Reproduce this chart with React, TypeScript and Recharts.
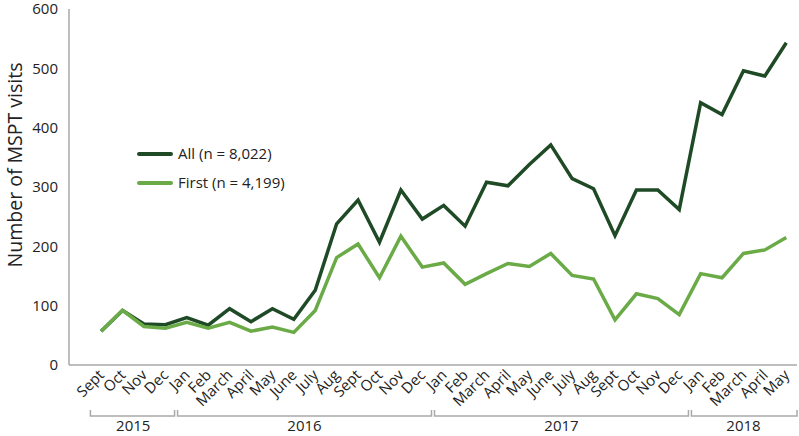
import React from 'react';
import { LineChart, Line, XAxis, YAxis } from 'recharts';

// Sept 2015 .. May 2018, one entry per month
const months = [
  'Sept', 'Oct', 'Nov', 'Dec',
  'Jan', 'Feb', 'March', 'April', 'May', 'June', 'July', 'Aug', 'Sept', 'Oct', 'Nov', 'Dec',
  'Jan', 'Feb', 'March', 'April', 'May', 'June', 'July', 'Aug', 'Sept', 'Oct', 'Nov', 'Dec',
  'Jan', 'Feb', 'March', 'April', 'May',
];
const allVisits = [
  57, 92, 69, 68,
  80, 67, 95, 73, 95, 77, 126, 238, 278, 207, 295, 246,
  269, 234, 308, 302, 338, 371, 314, 297, 218, 295, 295, 262,
  442, 422, 496, 487, 543,
];
const firstVisits = [
  57, 92, 65, 62,
  72, 62, 72, 57, 64, 55, 92, 181, 204, 147, 217, 165,
  172, 136, 154, 171, 166, 188, 151, 145, 76, 120, 112, 85,
  154, 147, 188, 194, 215,
];
const years = ['2015', '2016', '2017', '2018'];
// month index range covered by each year
const yearStart = [0, 4, 16, 28];
const yearEnd = [3, 15, 27, 32];
const yTicks = [0, 100, 200, 300, 400, 500, 600];
const seriesNames = ['All (n = 8,022)', 'First (n = 4,199)'];

const data = months.map((m, i) => ({ idx: i, month: m, all: allVisits[i], first: firstVisits[i] }));

const DARK = '#1f4a26';
const LIGHT = '#6aab47';
const AXIS = '#a9a9a9';
const TEXT = '#222';
const FONT = '"Open Sans", sans-serif';

const W = 799;
const H = 436;
const LEFT = 69;
const RIGHT = 2;
const X_MIN = -1.5;
const X_MAX = months.length - 0.5;
const PX_PER_UNIT = (W - LEFT - RIGHT) / (X_MAX - X_MIN);

const MonthTick = (props: any) => {
  const { x, y, payload } = props;
  const ax = x + 4;
  const ay = y + 11;
  return (
    <text
      x={ax}
      y={ay}
      textAnchor="end"
      fontSize={15}
      fontFamily={FONT}
      fill={TEXT}
      transform={`rotate(-45, ${ax}, ${ay})`}
    >
      {months[payload.value]}
    </text>
  );
};

const yearSpan = (i: number) => [
  Math.max(yearStart[i] - 0.5, X_MIN),
  Math.min(yearEnd[i] + 0.5, X_MAX),
];

// draws the bracket under each year plus its label
const YearTick = (props: any) => {
  const { x, y, index } = props;
  const [s, e] = yearSpan(index);
  const center = (s + e) / 2;
  const x0 = x + (s - center) * PX_PER_UNIT + (index === 0 ? 0 : 1.5);
  const x1 = x + (e - center) * PX_PER_UNIT - (index === years.length - 1 ? 0 : 1.5);
  return (
    <g>
      <path d={`M${x0},${y - 6}V${y}H${x1}V${y - 6}`} stroke={AXIS} strokeWidth={1.5} fill="none" />
      <text x={x} y={y + 15} textAnchor="middle" fontSize={15} fontFamily={FONT} fill={TEXT}>
        {years[index]}
      </text>
    </g>
  );
};

const YLabel = (props: any) => {
  const { viewBox } = props;
  const cx = 14;
  const cy = viewBox.y + viewBox.height / 2 - 22;
  return (
    <text
      x={cx}
      y={cy}
      textAnchor="middle"
      dominantBaseline="central"
      fontSize={19.5}
      fontFamily={FONT}
      fill={TEXT}
      transform={`rotate(-90, ${cx}, ${cy})`}
    >
      Number of MSPT visits
    </text>
  );
};

const yearCenters = years.map((_, i) => {
  const [s, e] = yearSpan(i);
  return (s + e) / 2;
});

export default function App() {
  return (
    <div style={{ position: 'absolute', left: 0, top: 0, width: W, height: H, background: '#fff' }}>
      <LineChart width={W} height={H} data={data} margin={{ top: 9, right: RIGHT, left: 0, bottom: 0 }}>
        <XAxis
          dataKey="idx"
          type="number"
          domain={[X_MIN, X_MAX]}
          ticks={months.map((_, i) => i)}
          interval={0}
          height={51}
          stroke={AXIS}
          strokeWidth={1.5}
          tickLine={false}
          tickSize={0}
          tickMargin={0}
          tick={<MonthTick />}
        />
        <XAxis
          xAxisId="yr"
          dataKey="idx"
          type="number"
          domain={[X_MIN, X_MAX]}
          ticks={yearCenters}
          interval={0}
          height={20}
          axisLine={false}
          tickLine={false}
          tickSize={0}
          tickMargin={0}
          tick={<YearTick />}
        />
        <YAxis
          domain={[0, 600]}
          ticks={yTicks}
          width={LEFT}
          stroke={AXIS}
          strokeWidth={1.5}
          tickLine={false}
          tickSize={0}
          tickMargin={11}
          tick={{ fill: TEXT, fontSize: 15, fontFamily: FONT }}
          label={<YLabel />}
        />
        <Line dataKey="all" stroke={DARK} strokeWidth={3.5} dot={false} isAnimationActive={false} strokeLinejoin="miter" />
        <Line dataKey="first" stroke={LIGHT} strokeWidth={3.5} dot={false} isAnimationActive={false} strokeLinejoin="miter" />
      </LineChart>
      <div
        style={{
          position: 'absolute', left: 137, top: 139,
          fontFamily: FONT, fontSize: 15, color: TEXT, lineHeight: '29px',
        }}
      >
        {seriesNames.map((name, i) => (
          <div key={name} style={{ display: 'flex', alignItems: 'center' }}>
            <span
              style={{
                display: 'inline-block', width: 36, height: 4, borderRadius: 2,
                background: i === 0 ? DARK : LIGHT, marginRight: 5,
              }}
            />
            {name}
          </div>
        ))}
      </div>
    </div>
  );
}
